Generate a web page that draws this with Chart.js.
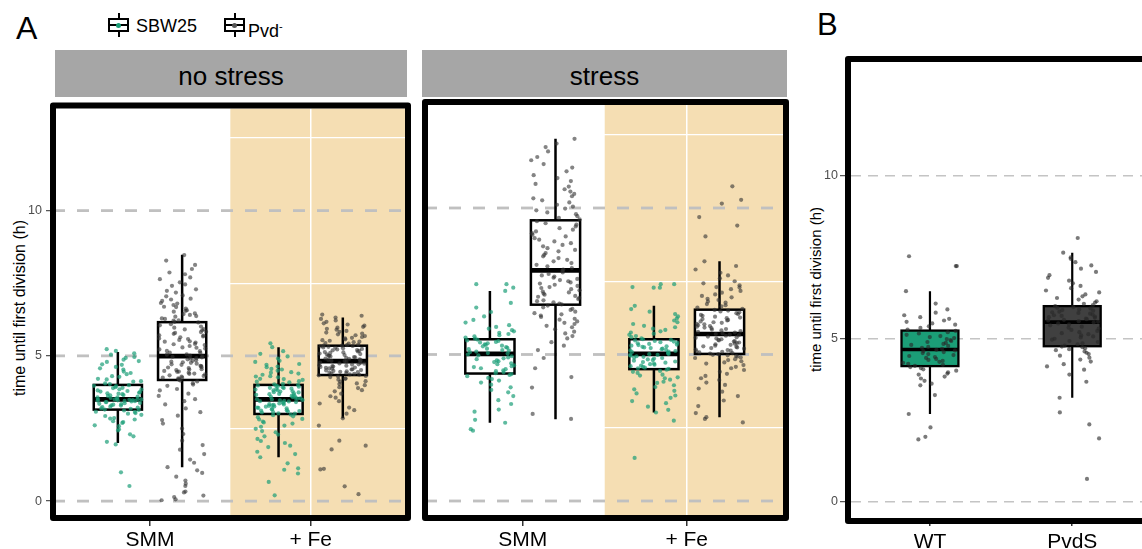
<!DOCTYPE html>
<html>
<head>
<meta charset="utf-8">
<title>time until first division</title>
<script src="https://cdn.jsdelivr.net/npm/chart.js@4.4.1/dist/chart.umd.min.js"></script>
<style>
  html, body { margin: 0; padding: 0; background: #fff; }
  #fig { position: relative; width: 1142px; height: 549px; overflow: hidden;
         font-family: "Liberation Sans", Arial, sans-serif; color: #000; }
  canvas { position: absolute; }
  .tag { position: absolute; white-space: nowrap; }
  .strip { position: absolute; top: 50px; height: 47px; background: #a6a6a6; font-size: 26px;
           display: flex; align-items: center; justify-content: center; box-sizing: border-box; padding-top: 6px; }
  .ytitle { position: absolute; width: 300px; text-align: center; transform: rotate(-90deg); white-space: nowrap; }
  .key { position: absolute; top: 13px; width: 21px; height: 24px; }
  .key i { position: absolute; display: block; }
  .key .wh { left: 9.5px; top: 0; width: 2px; height: 24px; background: #000; }
  .key .bx { left: 0; top: 5px; width: 21px; height: 14px; box-sizing: border-box; border: 2px solid #000; background: #fff; }
  .key .md { left: 0; top: 11px; width: 21px; height: 2px; background: #000; }
  .key .dot { left: 8px; top: 9.5px; width: 5px; height: 5px; border-radius: 50%; }
</style>
</head>
<body>
<div id="fig">
  <div class="tag" style="left:16px;top:12px;font-size:32px;line-height:32px">A</div>
  <div class="tag" style="left:817px;top:9px;font-size:31px;line-height:31px">B</div>

  <div class="key" style="left:108px"><i class="wh"></i><i class="bx"></i><i class="md"></i><i class="dot" style="background:#1b9e77"></i></div>
  <div class="tag" style="left:136px;top:17px;font-size:18px;line-height:18px">SBW25</div>
  <div class="key" style="left:224px"><i class="wh"></i><i class="bx"></i><i class="md"></i><i class="dot" style="background:#555"></i></div>
  <div class="tag" style="left:248px;top:17px;font-size:18px;line-height:18px">Pvd<sup style="font-size:11px">-</sup></div>

  <div class="strip" style="left:55px;width:352px">no stress</div>
  <div class="strip" style="left:422px;width:365px">stress</div>

  <div class="ytitle" style="left:-130px;top:300px;font-size:16px;line-height:16px">time until first division (h)</div>
  <div class="ytitle" style="left:665px;top:282px;font-size:15px;line-height:15px">time until first division (h)</div>

  <canvas id="noStress" width="420" height="452" style="left:0;top:97px"></canvas>
  <canvas id="stress" width="380" height="452" style="left:418px;top:97px"></canvas>
  <canvas id="mutant" width="380" height="499" style="left:800px;top:50px"></canvas>
</div>

<script>
// categories and axis ticks
const catsA = ['SMM', '+ Fe'];
const catsB = ['WT', 'PvdS'];
const ticksY = [0, 2.5, 5, 7.5, 10, 12.5];   // the 2.5 steps are the white minor lines
const labelledY = [0, 5, 10];

// box stats: [lower whisker, Q1, median, Q3, upper whisker], SMM then + Fe
const boxNoStressSBW25 = [[2.0, 3.15, 3.5, 4.0, 5.13], [1.51, 3.0, 3.5, 4.0, 5.3]];
const boxNoStressPvd = [[1.17, 4.17, 4.99, 6.16, 8.48], [2.85, 4.34, 4.82, 5.35, 6.32]];
const boxStressSBW25 = [[2.67, 4.35, 5.02, 5.52, 7.17], [3.02, 4.5, 5.02, 5.52, 6.66]];
const boxStressPvd = [[2.79, 6.7, 7.87, 9.58, 12.36], [2.86, 5.02, 5.7, 6.53, 8.18]];
// panel B: WT then PvdS
const boxMutant = [[2.69, 4.16, 4.67, 5.25, 6.46], [3.19, 4.77, 5.51, 6.0, 7.64]];

// single cells, time until first division (h)
const noStressSMM_SBW25 = [0.52, 0.99, 1.95, 2.04, 2.23, 2.3, 2.43, 2.47, 2.58, 2.61, 2.69, 2.72, 2.75, 2.81, 2.84, 2.86, 2.93, 2.97, 3.01, 3.03, 3.07, 3.08, 3.12, 3.14,
  3.15, 3.18, 3.19, 3.22, 3.24, 3.25, 3.29, 3.3, 3.32, 3.34, 3.35, 3.37, 3.38, 3.41, 3.41, 3.43, 3.44, 3.45, 3.46, 3.47, 3.48, 3.49, 3.5, 3.5, 3.5,
  3.51, 3.52, 3.55, 3.57, 3.57, 3.6, 3.62, 3.64, 3.65, 3.68, 3.7, 3.71, 3.73, 3.75, 3.77, 3.79, 3.81, 3.84, 3.85, 3.89, 3.9, 3.92, 3.96, 3.97, 3.99,
  4.03, 4.05, 4.11, 4.13, 4.19, 4.21, 4.28, 4.3, 4.37, 4.41, 4.46, 4.53, 4.57, 4.62, 4.69, 4.71, 4.79, 4.82, 4.87, 4.93, 4.96, 5.04, 5.09, 5.17, 5.23];
const noStressSMM_Pvd = [0.03, 0.06, 0.14, 0.19, 0.3, 0.33, 0.52, 0.6, 0.71, 0.84, 0.97, 1.06,
  1.17, 1.32, 1.43, 1.62, 1.77, 1.93, 2.08, 2.31, 2.5, 2.67, 2.79, 2.94, 3.06, 3.19, 3.33, 3.44, 3.51, 3.62, 3.7, 3.81, 3.86, 3.97, 4.01, 4.06, 4.12, 4.15,
  4.18, 4.2, 4.23, 4.25, 4.25, 4.29, 4.31, 4.33, 4.36, 4.38, 4.39, 4.42, 4.45, 4.46, 4.48, 4.51, 4.53, 4.54, 4.58, 4.6, 4.61, 4.65, 4.66, 4.69, 4.71, 4.73, 4.76, 4.78, 4.8, 4.83, 4.85, 4.88, 4.9, 4.92, 4.95, 4.97, 4.99,
  5.01, 5.04, 5.05, 5.1, 5.11, 5.16, 5.17, 5.22, 5.25, 5.28, 5.29, 5.34, 5.37, 5.4, 5.41, 5.46, 5.49, 5.5, 5.55, 5.58, 5.6, 5.64, 5.67, 5.7, 5.71, 5.76, 5.79, 5.82, 5.83, 5.88, 5.91, 5.92, 5.97, 6.01, 6.05, 6.09, 6.15,
  6.17, 6.21, 6.22, 6.27, 6.29, 6.35, 6.37, 6.41, 6.44, 6.46, 6.52, 6.55, 6.57, 6.63, 6.68, 6.69, 6.75, 6.8, 6.82, 6.89, 6.94, 6.97, 7.05, 7.08, 7.18, 7.24, 7.29, 7.41, 7.46, 7.53, 7.64, 7.7, 7.81, 7.87, 7.99, 8.13, 8.28, 8.47];
const noStressFe_SBW25 = [0.2, 0.66, 0.95, 1.08, 1.13, 1.3,
  1.51, 1.62, 1.7, 1.86, 1.91, 2.0, 2.07, 2.14, 2.23, 2.29, 2.37, 2.41, 2.49, 2.56, 2.6, 2.67, 2.71, 2.74, 2.81, 2.83, 2.89, 2.92, 2.96, 2.98,
  3.01, 3.02, 3.05, 3.06, 3.09, 3.1, 3.12, 3.13, 3.16, 3.17, 3.19, 3.21, 3.22, 3.25, 3.26, 3.28, 3.3, 3.31, 3.33, 3.34, 3.36, 3.38, 3.39, 3.41, 3.43, 3.44, 3.45, 3.47, 3.48, 3.5,
  3.51, 3.53, 3.54, 3.55, 3.58, 3.59, 3.61, 3.62, 3.65, 3.66, 3.68, 3.69, 3.71, 3.74, 3.75, 3.77, 3.78, 3.81, 3.82, 3.84, 3.86, 3.87, 3.89, 3.9, 3.92, 3.94, 3.95, 3.97, 3.98, 4.0,
  4.02, 4.04, 4.09, 4.11, 4.13, 4.17, 4.2, 4.21, 4.26, 4.29, 4.3, 4.35, 4.39, 4.42, 4.44, 4.49, 4.53, 4.55, 4.61, 4.63, 4.69, 4.72, 4.79, 4.83, 4.91, 4.98, 5.07, 5.16, 5.3, 5.43];
const noStressFe_Pvd = [0.24, 0.51, 1.09, 1.11, 1.78, 1.91, 2.08, 2.6,
  2.85, 3.01, 3.13, 3.22, 3.36, 3.44, 3.56, 3.61, 3.7, 3.78, 3.82, 3.89, 3.92, 3.99, 4.03, 4.05, 4.11, 4.13, 4.18, 4.21, 4.22, 4.27, 4.29, 4.31, 4.33,
  4.35, 4.36, 4.38, 4.39, 4.41, 4.42, 4.44, 4.45, 4.47, 4.48, 4.5, 4.51, 4.53, 4.54, 4.56, 4.57, 4.59, 4.6, 4.62, 4.63, 4.65, 4.66, 4.68, 4.7, 4.71, 4.73, 4.74, 4.76, 4.77, 4.79, 4.8, 4.82,
  4.83, 4.85, 4.86, 4.88, 4.9, 4.91, 4.93, 4.95, 4.96, 4.98, 5.0, 5.01, 5.03, 5.05, 5.06, 5.08, 5.1, 5.12, 5.13, 5.15, 5.17, 5.19, 5.2, 5.22, 5.24, 5.26, 5.28, 5.29, 5.31, 5.33, 5.34, 5.35, 5.35,
  5.37, 5.39, 5.42, 5.44, 5.47, 5.49, 5.52, 5.54, 5.57, 5.6, 5.62, 5.65, 5.68, 5.71, 5.74, 5.77, 5.8, 5.83, 5.86, 5.9, 5.93, 5.97, 6.0, 6.04, 6.08, 6.12, 6.17, 6.22, 6.27, 6.32, 6.38, 6.42];
const stressSMM_SBW25 = [2.4, 2.45, 2.67, 2.77, 3.05, 3.12, 3.31, 3.44, 3.58, 3.71, 3.79, 3.88, 3.97, 4.04, 4.11, 4.16, 4.2, 4.26, 4.3, 4.33,
  4.36, 4.39, 4.43, 4.46, 4.5, 4.53, 4.57, 4.6, 4.63, 4.67, 4.7, 4.74, 4.77, 4.8, 4.84, 4.87, 4.9, 4.94, 4.97, 5.0,
  5.03, 5.05, 5.08, 5.1, 5.13, 5.15, 5.18, 5.2, 5.23, 5.25, 5.28, 5.3, 5.33, 5.35, 5.38, 5.41, 5.43, 5.46, 5.48, 5.51,
  5.54, 5.58, 5.62, 5.66, 5.7, 5.74, 5.79, 5.83, 5.88, 5.94, 6.0, 6.09, 6.18, 6.3, 6.45, 6.6, 6.76, 7.17, 7.28, 7.4, 7.4];
const stressSMM_Pvd = [2.8, 2.97, 3.87, 4.23, 4.53, 4.88, 5.15, 5.3, 5.42, 5.55, 5.63, 5.72, 5.78, 5.86, 5.93, 5.98, 6.04, 6.08, 6.13, 6.19, 6.22, 6.28, 6.33, 6.37, 6.41, 6.46, 6.52, 6.56, 6.61, 6.67,
  6.71, 6.74, 6.78, 6.82, 6.85, 6.89, 6.93, 6.97, 7.0, 7.04, 7.08, 7.12, 7.15, 7.19, 7.23, 7.27, 7.3, 7.34, 7.38, 7.42, 7.46, 7.5, 7.54, 7.58, 7.62, 7.66, 7.7, 7.75, 7.8, 7.85,
  7.9, 7.95, 8.01, 8.06, 8.12, 8.18, 8.23, 8.29, 8.35, 8.4, 8.46, 8.52, 8.57, 8.63, 8.69, 8.74, 8.8, 8.86, 8.92, 8.97, 9.03, 9.09, 9.14, 9.2, 9.26, 9.31, 9.37, 9.43, 9.48, 9.55,
  9.61, 9.66, 9.72, 9.79, 9.85, 9.92, 9.98, 10.05, 10.11, 10.19, 10.26, 10.33, 10.4, 10.48, 10.56, 10.64, 10.73, 10.82, 10.92, 11.02, 11.12, 11.25, 11.38, 11.5, 11.63, 11.74, 11.93, 12.08, 12.2, 12.36];
const stressFe_SBW25 = [1.47, 2.74, 3.02, 3.11, 3.22, 3.34, 3.41, 3.52, 3.6, 3.67, 3.76, 3.81, 3.89, 3.95, 4.03, 4.07, 4.14, 4.19, 4.22, 4.28, 4.31, 4.37, 4.41, 4.44, 4.48,
  4.51, 4.53, 4.55, 4.58, 4.6, 4.62, 4.65, 4.67, 4.69, 4.72, 4.74, 4.76, 4.79, 4.81, 4.83, 4.86, 4.88, 4.9, 4.92, 4.94, 4.96, 4.98, 4.99, 5.01, 5.02,
  5.04, 5.06, 5.08, 5.1, 5.12, 5.14, 5.16, 5.18, 5.2, 5.22, 5.24, 5.26, 5.28, 5.3, 5.32, 5.34, 5.36, 5.38, 5.4, 5.42, 5.44, 5.46, 5.48, 5.5, 5.52,
  5.55, 5.59, 5.63, 5.67, 5.71, 5.75, 5.79, 5.84, 5.88, 5.93, 5.98, 6.04, 6.1, 6.16, 6.23, 6.3, 6.38, 6.46, 6.55, 6.66, 7.28, 7.28, 7.3, 7.4, 7.4];
const stressFe_Pvd = [2.68, 2.8, 2.86, 3.0, 3.24, 3.43, 3.58, 3.73, 3.84, 3.96, 4.04, 4.13, 4.19, 4.27, 4.34, 4.41, 4.47, 4.53, 4.58, 4.64, 4.69, 4.73, 4.77, 4.81, 4.84, 4.88, 4.9, 4.93, 4.95, 4.97, 4.99, 5.01,
  5.03, 5.05, 5.07, 5.09, 5.11, 5.13, 5.15, 5.17, 5.2, 5.22, 5.24, 5.26, 5.28, 5.3, 5.33, 5.35, 5.37, 5.39, 5.41, 5.44, 5.46, 5.48, 5.5, 5.52, 5.55, 5.57, 5.59, 5.61, 5.64, 5.66, 5.68, 5.7,
  5.72, 5.75, 5.77, 5.8, 5.82, 5.85, 5.87, 5.9, 5.92, 5.95, 5.97, 6.0, 6.03, 6.05, 6.08, 6.1, 6.13, 6.16, 6.18, 6.21, 6.24, 6.26, 6.29, 6.32, 6.35, 6.38, 6.41, 6.44, 6.47, 6.5, 6.52,
  6.56, 6.6, 6.64, 6.68, 6.72, 6.77, 6.81, 6.86, 6.9, 6.95, 7.0, 7.05, 7.11, 7.17, 7.23, 7.29, 7.3, 7.36, 7.43, 7.5, 7.6, 7.7, 7.79, 7.9, 8.02, 8.18, 9.03, 9.4, 9.69, 10.15, 10.28, 10.74];
const cellsWT = [1.91, 1.99, 2.28, 2.69, 3.27, 3.57, 3.62, 3.71, 3.78, 3.84, 3.9, 3.93, 3.97, 4.02, 4.06, 4.1, 4.13,
  4.17, 4.2, 4.23, 4.26, 4.29, 4.32, 4.35, 4.38, 4.41, 4.44, 4.47, 4.5, 4.53, 4.56, 4.59, 4.62, 4.64, 4.66,
  4.69, 4.72, 4.75, 4.78, 4.81, 4.84, 4.87, 4.9, 4.93, 4.96, 4.99, 5.02, 5.05, 5.08, 5.12, 5.16, 5.2, 5.24,
  5.28, 5.33, 5.38, 5.43, 5.47, 5.52, 5.56, 5.61, 5.66, 5.72, 5.8, 5.9, 6.08, 6.46, 7.23, 7.23, 7.53];
const cellsPvdS = [0.7, 1.94, 2.37, 2.74, 3.19, 3.68, 3.9, 4.05, 4.15, 4.22, 4.3, 4.36, 4.42, 4.48, 4.53, 4.57, 4.61, 4.65, 4.68, 4.71, 4.74, 4.76,
  4.79, 4.83, 4.86, 4.9, 4.93, 4.97, 5.0, 5.04, 5.07, 5.1, 5.14, 5.17, 5.2, 5.24, 5.27, 5.31, 5.34, 5.37, 5.41, 5.44, 5.47, 5.5,
  5.52, 5.54, 5.56, 5.58, 5.6, 5.62, 5.64, 5.66, 5.68, 5.7, 5.72, 5.74, 5.77, 5.79, 5.81, 5.83, 5.86, 5.88, 5.9, 5.93, 5.95, 5.97, 6.0,
  6.03, 6.07, 6.11, 6.15, 6.2, 6.25, 6.3, 6.36, 6.42, 6.48, 6.55, 6.62, 6.7, 6.78, 6.87, 6.95, 7.05, 7.15, 7.25, 7.35, 7.45, 7.5, 7.64, 8.09];

const green = 'rgba(27,158,119,0.7)';
const grey = 'rgba(50,50,50,0.6)';

Chart.defaults.font.family = '"Liberation Sans", Arial, sans-serif';

// horizontal jitter so the points do not sit on one line (position only, fixed per index)
function jitter(i, k) {
  const s = Math.sin((i + 1) * 12.9898 + k * 78.233) * 43758.5453;
  return s - Math.floor(s) - 0.5;
}

function dots(values, x, spread, color, r, k) {
  return {
    data: values.map((v, i) => ({ x: x + jitter(i, k) * spread, y: v })),
    pointRadius: r, pointBackgroundColor: color, pointBorderWidth: 0, borderWidth: 0
  };
}

function panelPlugin(cfg) {
  return {
    id: 'panel',
    beforeDraw(chart) {
      if (cfg.shadeFrom == null) return;
      const { ctx, chartArea: a } = chart;
      const x0 = chart.scales.x.getPixelForValue(cfg.shadeFrom);
      ctx.save();
      ctx.fillStyle = '#f5deb3';
      ctx.fillRect(x0, a.top, a.right - x0, a.bottom - a.top);
      ctx.restore();
    },
    beforeDatasetsDraw(chart) {
      const { ctx, chartArea: a } = chart;
      const xs = chart.scales.x, ys = chart.scales.y;
      ctx.save();
      // dashed lines at 0, 5, 10
      ctx.strokeStyle = cfg.dashColor;
      ctx.lineWidth = cfg.dashWidth;
      ctx.setLineDash(cfg.dash);
      ctx.lineDashOffset = cfg.dashOffset;
      labelledY.forEach(v => {
        const py = ys.getPixelForValue(v);
        ctx.beginPath(); ctx.moveTo(a.left, py); ctx.lineTo(a.right, py); ctx.stroke();
      });
      ctx.setLineDash([]);
      // boxes
      cfg.boxes.forEach(b => {
        const [lo, q1, md, q3, hi] = b.s;
        const cx = xs.getPixelForValue(b.x);
        const l = xs.getPixelForValue(b.x - b.w / 2), r = xs.getPixelForValue(b.x + b.w / 2);
        const y1 = ys.getPixelForValue(q1), y3 = ys.getPixelForValue(q3);
        ctx.strokeStyle = '#000';
        ctx.lineWidth = cfg.whiskerWidth;
        ctx.beginPath();
        ctx.moveTo(cx, ys.getPixelForValue(hi)); ctx.lineTo(cx, y3);
        ctx.moveTo(cx, y1); ctx.lineTo(cx, ys.getPixelForValue(lo));
        ctx.stroke();
        ctx.fillStyle = b.fill;
        ctx.fillRect(l, y3, r - l, y1 - y3);
        ctx.lineWidth = cfg.boxWidth;
        ctx.strokeRect(l, y3, r - l, y1 - y3);
        const ym = ys.getPixelForValue(md);
        ctx.lineWidth = cfg.medianWidth;
        ctx.beginPath(); ctx.moveTo(l, ym); ctx.lineTo(r, ym); ctx.stroke();
      });
      ctx.restore();
    },
    afterDraw(chart) {
      const { ctx, chartArea: a } = chart;
      const f = cfg.frame;
      ctx.save();
      ctx.strokeStyle = '#000';
      ctx.lineWidth = f;
      ctx.lineJoin = 'round';
      ctx.strokeRect(a.left - f / 2, a.top - f / 2, a.right - a.left + f, a.bottom - a.top + f);
      ctx.restore();
    }
  };
}

const isMinor = c => c.tick && labelledY.indexOf(c.tick.value) < 0;

function makePanel(id, cfg) {
  return new Chart(document.getElementById(id), {
    type: 'scatter',
    data: { datasets: cfg.datasets },
    options: {
      responsive: false,
      animation: false,
      events: [],
      layout: { padding: cfg.pad },
      plugins: { legend: { display: false }, tooltip: { enabled: false } },
      scales: {
        x: {
          type: 'linear', min: cfg.xmin, max: cfg.xmax,
          afterBuildTicks: s => { s.ticks = [1, 2].map(v => ({ value: v })); },
          afterFit: s => { s.height = cfg.xh; },
          ticks: {
            callback: v => cfg.cats[Math.round(v) - 1],
            color: '#000', font: { size: 21 }, padding: cfg.xpad, maxRotation: 0, autoSkip: false
          },
          grid: { color: '#ffffff', lineWidth: 1.5, tickLength: cfg.xtl, tickColor: '#333', tickWidth: 1.5 },
          border: { display: false }
        },
        y: {
          type: 'linear', min: cfg.ymin, max: cfg.ymax,
          afterBuildTicks: s => { s.ticks = ticksY.map(v => ({ value: v })); },
          afterFit: s => { s.width = cfg.yw; },
          ticks: {
            display: cfg.ylabels,
            callback: v => labelledY.indexOf(v) >= 0 ? String(v) : '',
            color: '#4d4d4d', font: { size: 12.5 }, padding: cfg.ypad
          },
          grid: {
            color: c => isMinor(c) ? '#ffffff' : 'rgba(0,0,0,0)',
            lineWidth: 1.3,
            drawTicks: cfg.ylabels,
            tickLength: cfg.ytl,
            tickColor: c => isMinor(c) ? 'rgba(0,0,0,0)' : '#4d4d4d',
            tickWidth: 1.2
          },
          border: { display: false }
        }
      }
    },
    plugins: [panelPlugin(cfg)]
  });
}

const styleA = {
  cats: catsA, ymin: -0.478, ymax: 13.515, xh: 34, xtl: 11, xpad: 2,
  shadeFrom: 1.5, dash: [12, 12], dashOffset: 3, dashWidth: 2.8, dashColor: '#c0c0c0',
  whiskerWidth: 2.5, boxWidth: 2.5, medianWidth: 4.7, frame: 6
};

makePanel('noStress', Object.assign({}, styleA, {
  pad: { left: 0, top: 8, right: 15, bottom: 0 }, yw: 56, ylabels: true, ytl: 10, ypad: 4,
  xmin: 0.415, xmax: 2.587,
  datasets: [
    dots(noStressSMM_SBW25, 0.8, 0.3, green, 2.1, 1), dots(noStressSMM_Pvd, 1.2, 0.3, grey, 2.1, 2),
    dots(noStressFe_SBW25, 1.8, 0.3, green, 2.1, 3), dots(noStressFe_Pvd, 2.2, 0.3, grey, 2.1, 4)
  ],
  boxes: [
    { x: 0.8, w: 0.3, s: boxNoStressSBW25[0], fill: '#fff' }, { x: 1.2, w: 0.3, s: boxNoStressPvd[0], fill: '#fff' },
    { x: 1.8, w: 0.3, s: boxNoStressSBW25[1], fill: '#fff' }, { x: 2.2, w: 0.3, s: boxNoStressPvd[1], fill: '#fff' }
  ]
}));

makePanel('stress', Object.assign({}, styleA, {
  pad: { left: 0, top: 8, right: 15, bottom: 0 }, yw: 10, ylabels: false, ytl: 0, ypad: 0,
  xmin: 0.4226, xmax: 2.587,
  datasets: [
    dots(stressSMM_SBW25, 0.8, 0.3, green, 2.1, 5), dots(stressSMM_Pvd, 1.2, 0.3, grey, 2.1, 6),
    dots(stressFe_SBW25, 1.8, 0.3, green, 2.1, 7), dots(stressFe_Pvd, 2.2, 0.3, grey, 2.1, 8)
  ],
  boxes: [
    { x: 0.8, w: 0.3, s: boxStressSBW25[0], fill: '#fff' }, { x: 1.2, w: 0.3, s: boxStressPvd[0], fill: '#fff' },
    { x: 1.8, w: 0.3, s: boxStressSBW25[1], fill: '#fff' }, { x: 2.2, w: 0.3, s: boxStressPvd[1], fill: '#fff' }
  ]
}));

makePanel('mutant', {
  cats: catsB, ymin: -0.5, ymax: 13.49, xh: 31, xtl: 8, xpad: 4,
  pad: { left: 0, top: 12, right: 15, bottom: 0 }, yw: 51, ylabels: true, ytl: 11, ypad: 2,
  xmin: 0.445, xmax: 2.652,
  shadeFrom: null, dash: [10, 7], dashOffset: 0, dashWidth: 1.6, dashColor: '#c4c4c4',
  whiskerWidth: 2.2, boxWidth: 2.3, medianWidth: 3.6, frame: 6,
  datasets: [
    dots(cellsWT, 1, 0.38, 'rgba(40,40,40,0.62)', 2.1, 9), dots(cellsPvdS, 2, 0.38, 'rgba(40,40,40,0.62)', 2.1, 10)
  ],
  boxes: [
    { x: 1, w: 0.4, s: boxMutant[0], fill: '#1b9e77' }, { x: 2, w: 0.4, s: boxMutant[1], fill: '#404040' }
  ]
});
</script>
</body>
</html>
